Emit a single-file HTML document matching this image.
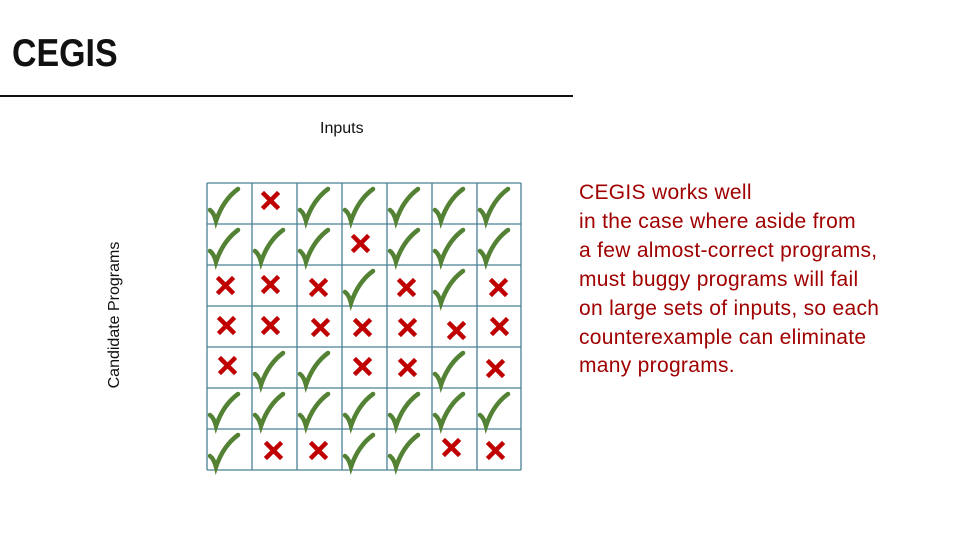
<!DOCTYPE html>
<html><head><meta charset="utf-8"><style>
body{margin:0;width:960px;height:540px;background:#fff;position:relative;overflow:hidden;font-family:"Liberation Sans",sans-serif}
.t{position:absolute;white-space:nowrap}
</style></head><body>
<div class="t" style="left:12px;top:32px;font-size:39px;font-weight:bold;letter-spacing:0;color:#111;transform:scaleX(0.87);transform-origin:left">CEGIS</div>
<div style="position:absolute;left:0;top:95px;width:573px;height:2px;background:#111"></div>
<div class="t" style="left:320px;top:120px;font-size:16px;color:#111">Inputs</div>
<div class="t" style="left:115px;top:315px;font-size:16px;color:#111;transform:translate(-50%,-50%) rotate(-90deg)">Candidate Programs</div>
<div class="t" style="left:579px;top:179px;font-size:21px;letter-spacing:0.3px;line-height:28.9px;color:#a00000">CEGIS works well<br>in the case where aside from<br>a few almost-correct programs,<br>must buggy programs will fail<br>on large sets of inputs, so each<br>counterexample can eliminate<br>many programs.</div>
<svg style="position:absolute;left:0;top:0" width="960" height="540">
<defs>
<g id="v"><path d="M3,27 Q7,30 9,38 Q16,17 31,6" fill="none" stroke="#548235" stroke-width="4.5" stroke-linecap="round"/></g>
<g id="x"><path d="M16,14 L29,27 M29,14 L16,27" stroke="#c00000" stroke-width="4.5" stroke-linecap="square"/></g>
</defs>
<g stroke="#4a7f95" stroke-width="1.3">
<line x1="207" y1="183" x2="207" y2="470"/><line x1="252" y1="183" x2="252" y2="470"/><line x1="297" y1="183" x2="297" y2="470"/><line x1="342" y1="183" x2="342" y2="470"/><line x1="387" y1="183" x2="387" y2="470"/><line x1="432" y1="183" x2="432" y2="470"/><line x1="477" y1="183" x2="477" y2="470"/><line x1="521" y1="183" x2="521" y2="470"/>
<line x1="207" y1="183" x2="521" y2="183"/><line x1="207" y1="224" x2="521" y2="224"/><line x1="207" y1="265" x2="521" y2="265"/><line x1="207" y1="306" x2="521" y2="306"/><line x1="207" y1="347" x2="521" y2="347"/><line x1="207" y1="388" x2="521" y2="388"/><line x1="207" y1="429" x2="521" y2="429"/><line x1="207" y1="470" x2="521" y2="470"/>
</g>
<use href="#v" x="207" y="183"/><use href="#x" x="248" y="180"/><use href="#v" x="297" y="183"/><use href="#v" x="342" y="183"/><use href="#v" x="387" y="183"/><use href="#v" x="432" y="183"/><use href="#v" x="477" y="183"/>
<use href="#v" x="207" y="224"/><use href="#v" x="252" y="224"/><use href="#v" x="297" y="224"/><use href="#x" x="338" y="223"/><use href="#v" x="387" y="224"/><use href="#v" x="432" y="224"/><use href="#v" x="477" y="224"/>
<use href="#x" x="203" y="265"/><use href="#x" x="248" y="264"/><use href="#x" x="296" y="267"/><use href="#v" x="342" y="265"/><use href="#x" x="384" y="267"/><use href="#v" x="432" y="265"/><use href="#x" x="476" y="267"/>
<use href="#x" x="204" y="305"/><use href="#x" x="248" y="305"/><use href="#x" x="298" y="307"/><use href="#x" x="340" y="307"/><use href="#x" x="385" y="307"/><use href="#x" x="434" y="310"/><use href="#x" x="477" y="306"/>
<use href="#x" x="205" y="345"/><use href="#v" x="252" y="347"/><use href="#v" x="297" y="347"/><use href="#x" x="340" y="346"/><use href="#x" x="385" y="347"/><use href="#v" x="432" y="347"/><use href="#x" x="473" y="348"/>
<use href="#v" x="207" y="388"/><use href="#v" x="252" y="388"/><use href="#v" x="297" y="388"/><use href="#v" x="342" y="388"/><use href="#v" x="387" y="388"/><use href="#v" x="432" y="388"/><use href="#v" x="477" y="388"/>
<use href="#v" x="207" y="429"/><use href="#x" x="251" y="430"/><use href="#x" x="296" y="430"/><use href="#v" x="342" y="429"/><use href="#v" x="387" y="429"/><use href="#x" x="429" y="427"/><use href="#x" x="473" y="430"/>
</svg>
</body></html>
